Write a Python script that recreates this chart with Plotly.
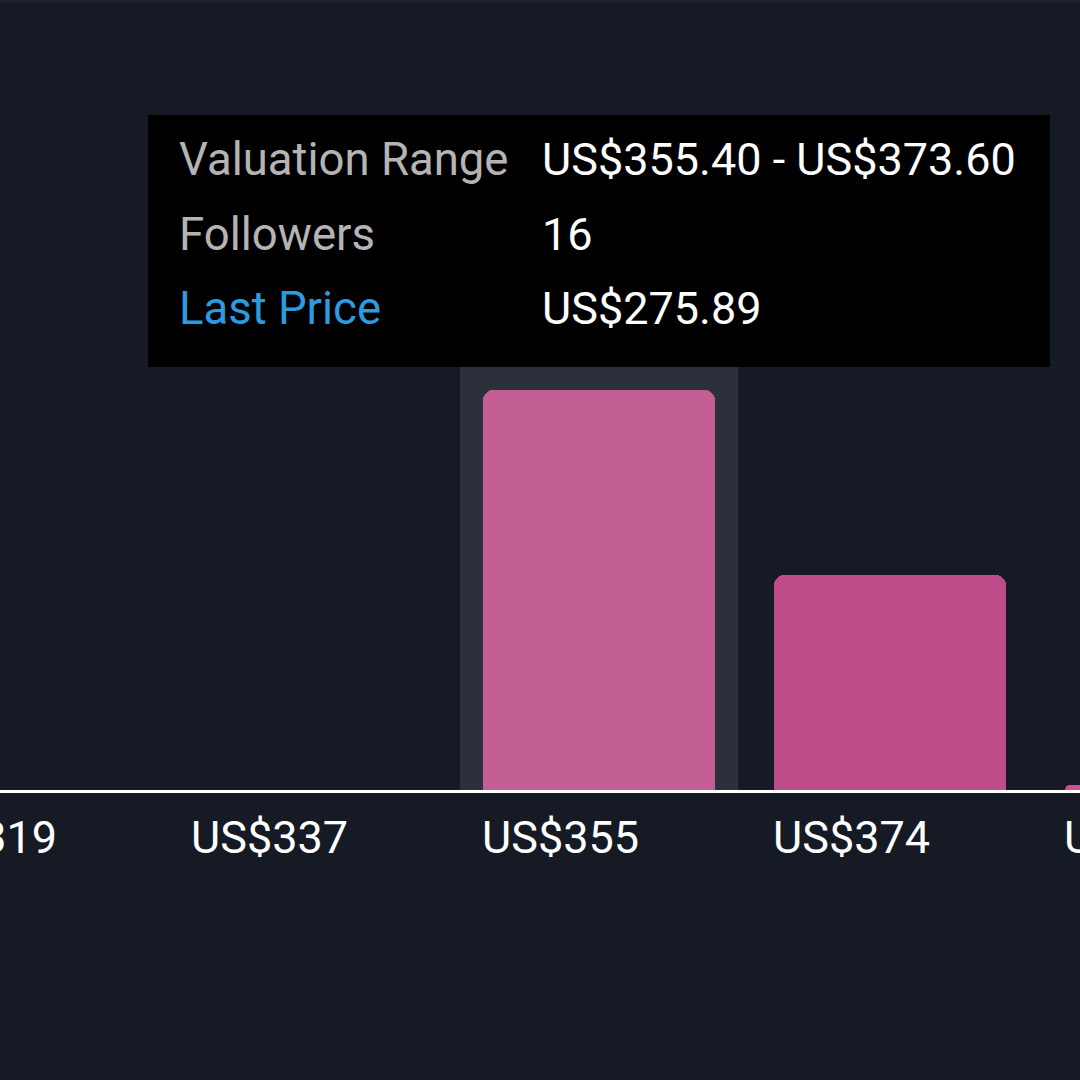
import plotly.graph_objects as go

# valuation bins (start price, US$) and follower counts per bin
bin_starts = [319.0, 337.2, 355.4, 373.6, 391.8]
bin_labels = ["US$319", "US$337", "US$355", "US$374", "US$392"]
followers = [0, 0, 16, 8.6, 0.2]
bar_colors = ["#bd4c88", "#bd4c88", "#c45f96", "#bd4c88", "#cf4f95"]

BIN_W = 18.2
BAR_W = 14.5
X_RANGE = [327.04, 394.58]
highlight = 2  # index of the hovered bin

tooltip_rows = [
    ("Valuation Range", "US$355.40 - US$373.60", "#b4b4b4"),
    ("Followers", "16", "#b4b4b4"),
    ("Last Price", "US$275.89", "#2d9be0"),
]

BG = "#151a25"
FONT = "Roboto, sans-serif"

centers = [s + BIN_W / 2 for s in bin_starts]
bar_left = [c - BAR_W / 2 for c in centers]

fig = go.Figure()
fig.add_trace(
    go.Bar(
        x=centers,
        y=followers,
        width=BAR_W,
        marker=dict(color=bar_colors, line=dict(width=0), cornerradius=10),
        hoverinfo="skip",
    )
)

# hover band behind the active bin
hs = bin_starts[highlight]
fig.add_shape(
    type="rect", xref="x", yref="y",
    x0=hs + 0.4, x1=hs + BIN_W - 0.4,
    y0=0, y1=followers[highlight] + 0.92,
    fillcolor="#2b303a", line=dict(width=0), layer="below",
)

# thin lighter strip along the top edge
fig.add_shape(
    type="rect", xref="paper", yref="paper",
    x0=0, x1=1, y0=1 - 3 / 790, y1=1,
    fillcolor="#1d2230", line=dict(width=0), layer="below",
)

# tooltip box
fig.add_shape(
    type="rect", xref="paper", yref="paper",
    x0=148 / 1080, x1=1050 / 1080, y0=1 - 367 / 790, y1=1 - 115 / 790,
    fillcolor="#000000", line=dict(width=0), layer="above",
)
for i, (lab, val, col) in enumerate(tooltip_rows):
    yy = 1 - (160 + i * 74) / 790
    fig.add_annotation(x=177 / 1080, y=yy, xref="paper", yref="paper",
                       text=lab, showarrow=False, xanchor="left", yanchor="middle",
                       font=dict(family=FONT, size=45.5, color=col))
    fig.add_annotation(x=540 / 1080, y=yy, xref="paper", yref="paper",
                       text=val, showarrow=False, xanchor="left", yanchor="middle",
                       font=dict(family=FONT, size=45, color="#ffffff"))

# tick labels, left-aligned with each bar (some sit partly off the edge)
for xl, lab in zip(bar_left, bin_labels):
    frac = (xl - X_RANGE[0]) / (X_RANGE[1] - X_RANGE[0])
    fig.add_annotation(x=frac, y=0, xref="paper", yref="paper",
                       text=lab, showarrow=False, xanchor="left", yanchor="middle",
                       xshift=-3, yshift=-47,
                       font=dict(family=FONT, size=45, color="#ffffff"))

fig.update_layout(
    width=1080, height=1080,
    margin=dict(l=0, r=0, t=0, b=290),
    paper_bgcolor=BG, plot_bgcolor=BG,
    showlegend=False,
    bargap=0,
    xaxis=dict(
        range=X_RANGE,
        showticklabels=False,
        showgrid=False, zeroline=False,
        showline=True, linecolor="#ffffff", linewidth=2.5,
        ticks="",
    ),
    yaxis=dict(range=[0, 31.6], visible=False, showgrid=False, zeroline=False),
)

fig.write_html(
    "out.html",
    config={"displayModeBar": False},
    post_script="document.body.style.margin='0';document.body.style.background='#151a25';",
)
